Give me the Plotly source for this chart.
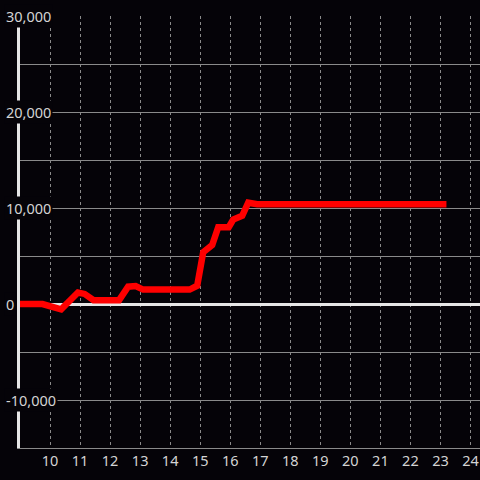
import plotly.graph_objects as go

# cumulative value over the hours of the day
hours = [9.0, 9.75, 10.37, 10.93, 11.15, 11.45, 12.3, 12.6, 12.85, 13.1,
         14.65, 14.9, 15.1, 15.4, 15.6, 15.95, 16.1, 16.4, 16.6, 16.9, 23.2]
values = [0, 0, -550, 1200, 1050, 400, 400, 1800, 1870, 1500,
          1500, 1900, 5400, 6150, 8000, 8000, 8800, 9200, 10550, 10400, 10400]

y_ticks = [30000, 20000, 10000, 0, -10000]
y_tick_text = ["30,000", "20,000", "10,000", "0", "-10,000"]

bg = "#050308"
grid = "#8a8a8a"
axis_white = "#e6e6e6"
label_color = "#d4d4d4"
font_family = "Noto Sans"

fig = go.Figure()

fig.add_trace(go.Scatter(
    x=hours, y=values,
    mode="lines",
    line=dict(color="#ff0000", width=6.5),
    hoverinfo="skip",
))

# y tick labels sit over the grid and axis line with an opaque background
for v, t in zip(y_ticks, y_tick_text):
    fig.add_annotation(
        x=-0.035, xref="paper", y=v, yref="y",
        text=t, showarrow=False, xanchor="left", yanchor="middle",
        font=dict(family=font_family, size=14.5, color=label_color),
        bgcolor=bg, borderpad=1,
    )

fig.update_layout(
    width=480, height=480,
    paper_bgcolor=bg, plot_bgcolor=bg,
    margin=dict(l=20, r=0, t=16, b=32),
    showlegend=False,
    font=dict(family=font_family, size=14.5, color=label_color),
    xaxis=dict(
        range=[9, 24.317],
        tickvals=list(range(10, 25)),
        showgrid=True, gridcolor=grid, gridwidth=1, griddash="dot",
        zeroline=False,
        showline=True, linecolor=grid, linewidth=1,
        ticks="", tickfont=dict(size=14.5, color=label_color),
    ),
    yaxis=dict(
        range=[-15000, 30000],
        tickvals=y_ticks,
        showticklabels=False,
        showgrid=True, gridcolor=grid, gridwidth=1,
        minor=dict(dtick=5000, tick0=0, showgrid=True, gridcolor=grid, gridwidth=1),
        zeroline=True, zerolinecolor=axis_white, zerolinewidth=3,
        showline=True, linecolor=axis_white, linewidth=3,
        ticks="", layer="above traces",
    ),
)

fig.write_html(
    "out.html",
    config={"displayModeBar": False},
    post_script="document.body.style.margin='0';document.body.style.overflow='hidden';",
)
